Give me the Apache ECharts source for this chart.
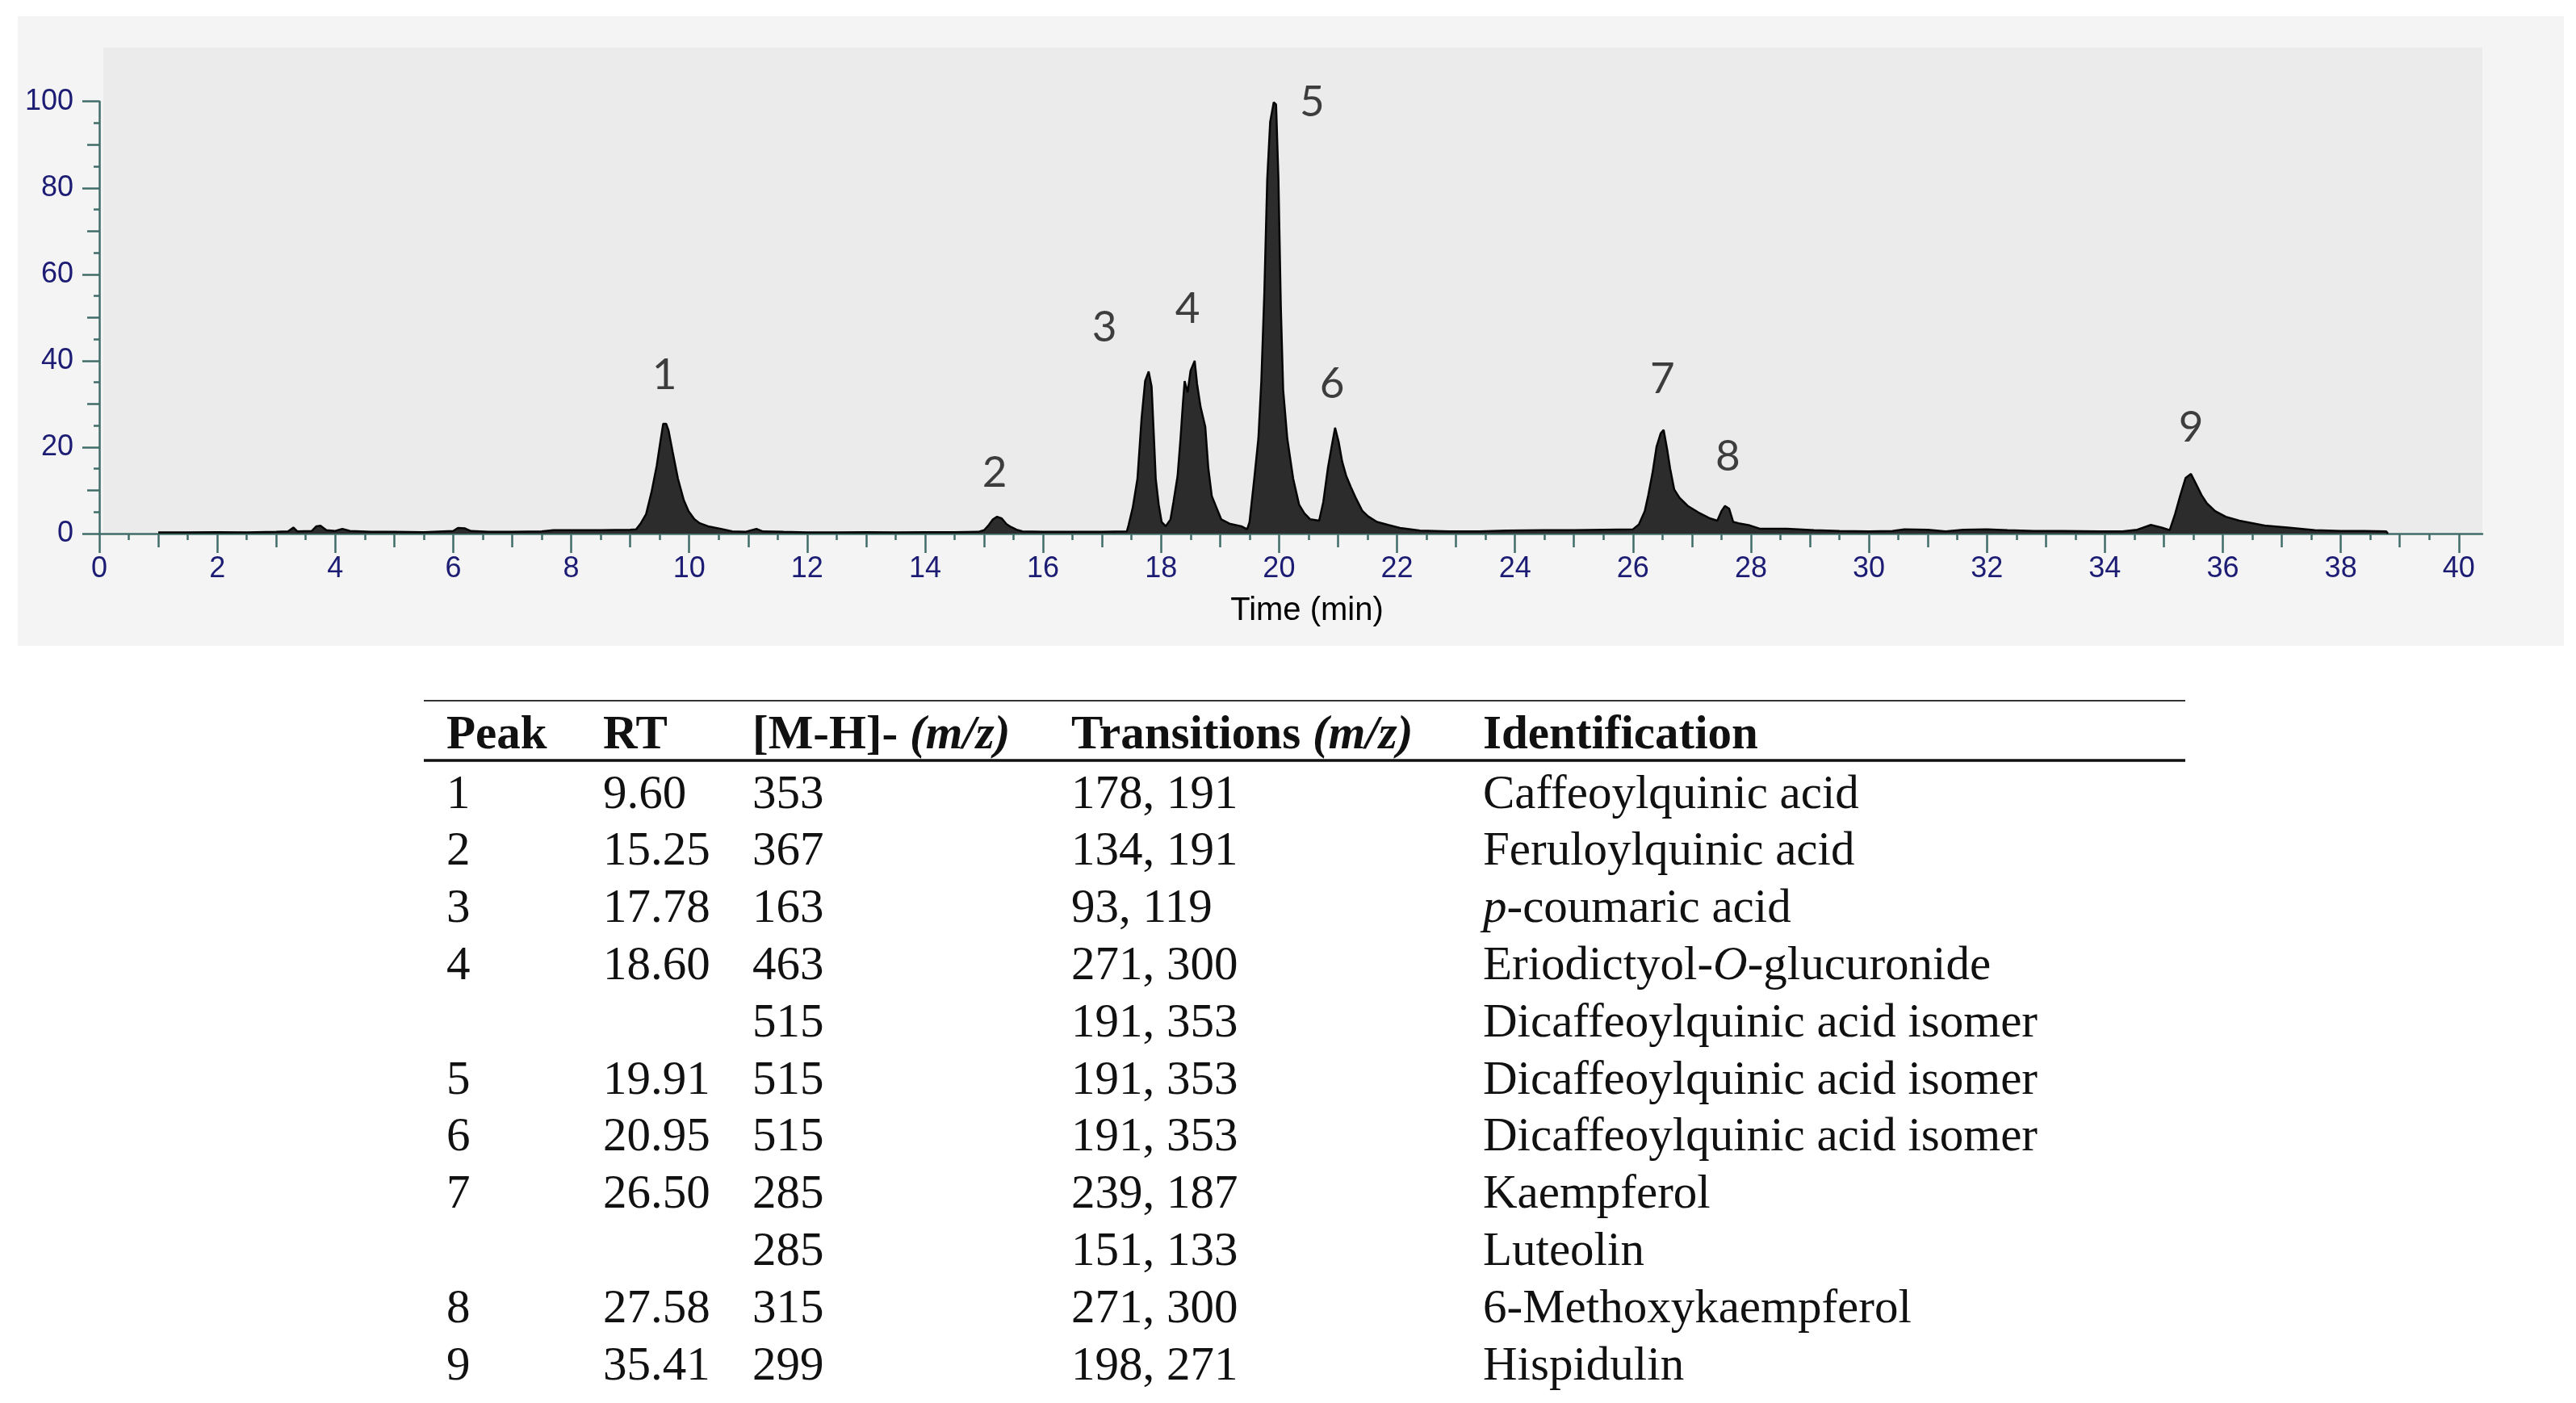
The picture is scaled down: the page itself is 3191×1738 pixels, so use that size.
<!DOCTYPE html>
<html>
<head>
<meta charset="utf-8">
<script src="https://cdn.jsdelivr.net/npm/echarts@6/dist/echarts.min.js"></script>
<style>
html,body{margin:0;padding:0;background:#fff;}
#chart{width:3191px;height:1738px;}
</style>
</head>
<body>
<div id="chart"></div>
<script>
// ---------- Chromatogram trace (time in min, relative abundance %) ----------
const traceTime = [
 1.00,1.5,2.0,2.5,3.0,3.2,3.29,3.36,3.6,3.68,3.75,3.85,4.0,4.12,4.25,4.6,5.0,5.5,6.0,6.08,6.2,6.3,6.6,7.0,7.5,7.7,8.0,8.5,9.0,
 9.10,9.18,9.27,9.36,9.45,9.52,9.56,9.61,9.65,9.72,9.81,9.91,9.99,10.09,10.18,10.32,10.54,10.73,10.95,11.14,11.25,11.6,
 12.0,12.5,13.0,13.5,14.0,14.5,14.9,15.0,15.08,15.15,15.22,15.30,15.38,15.46,15.55,15.65,16.0,16.5,17.0,
 17.42,17.45,17.52,17.60,17.67,17.73,17.79,17.84,17.88,17.91,17.96,18.01,18.08,18.16,
 18.21,18.28,18.33,18.37,18.40,18.45,18.50,18.57,18.61,18.67,18.75,18.80,18.86,18.94,19.02,19.16,19.36,19.46,
 19.50,19.58,19.65,19.70,19.75,19.80,19.85,19.91,19.95,19.99,20.03,20.07,20.14,20.24,20.34,20.43,20.53,20.68,
 20.75,20.83,20.89,20.95,21.01,21.07,21.14,21.22,21.31,21.41,21.51,21.66,21.85,22.05,22.39,22.88,23.4,23.86,24.5,25.0,25.5,26.0,
 26.10,26.20,26.26,26.33,26.40,26.47,26.52,26.58,26.63,26.70,26.79,26.93,27.11,27.29,27.43,27.50,27.56,27.63,27.70,27.79,27.98,28.16,28.61,29.07,
 29.5,30.0,30.4,30.6,31.0,31.3,31.6,32.0,32.35,32.8,33.3,33.9,34.3,34.55,34.78,34.96,35.10,
 35.19,35.28,35.37,35.46,35.55,35.64,35.73,35.87,36.05,36.28,36.51,36.74,37.10,37.56,38.0,38.4,38.77,38.8
];
const traceIntensity = [
 0.3,0.3,0.35,0.3,0.4,0.5,1.4,0.5,0.6,1.7,1.8,0.8,0.6,1.1,0.6,0.4,0.4,0.35,0.6,1.3,1.2,0.6,0.4,0.4,0.5,0.8,0.8,0.8,0.9,
 1.0,2.4,4.5,9.5,15.7,22,25.4,25.4,23.9,18.9,12.7,7.7,5.2,3.3,2.4,1.7,1.1,0.5,0.4,1.1,0.5,0.4,
 0.3,0.3,0.35,0.3,0.35,0.35,0.4,0.8,2.0,3.3,3.9,3.5,2.2,1.5,0.9,0.5,0.4,0.4,0.4,
 0.5,2,6,12.7,26.7,35.3,37.5,34,22,12.7,6.7,2.7,1.7,3.3,
 7.3,13.3,22,30,35.3,32.7,37.7,40,34.7,29.3,24.7,15.3,8.7,6,3.3,2.3,1.7,1.0,
 2.7,12.7,22,35.3,55.3,82,95.3,99.8,99.3,82,52.7,33.3,22,12.7,6.7,4.7,3.3,3.0,
 7.3,15.3,20,24.5,21.3,16.7,13.3,10.7,8,5.3,4,2.7,2,1.3,0.7,0.5,0.5,0.7,0.8,0.8,0.9,1.0,
 2.1,5.2,8.9,13.9,20.1,23.2,24,19.5,15.1,10.2,8.3,6.4,4.9,3.6,3.0,5.2,6.4,5.8,2.7,2.4,1.9,1.1,1.1,0.8,
 0.6,0.5,0.6,1.0,0.9,0.5,0.9,1.0,0.8,0.6,0.6,0.5,0.5,0.9,2.0,1.4,0.8,
 4.5,8.9,12.9,13.8,11.4,8.9,7.0,5.2,3.9,3.0,2.4,1.8,1.4,0.8,0.6,0.6,0.5,0
];

// ---------- Peak annotations ----------
const peakLabels = ['1','2','3','4','5','6','7','8','9'];
const peakLabelX = [9.58, 15.18, 17.04, 18.45, 20.56, 20.90, 26.50, 27.61, 35.46];
const peakLabelY = [36.6, 14.0, 47.6, 51.9, 99.8, 34.6, 35.7, 17.7, 24.5];

// ---------- Axis ticks ----------
const xTickLabels = [0,2,4,6,8,10,12,14,16,18,20,22,24,26,28,30,32,34,36,38,40];
const yTickLabels = [0,20,40,60,80,100];

// ---------- Table ----------
const tableHeader = ['Peak', 'RT', '[M-H]- {bi|(m/z)}', 'Transitions {bi|(m/z)}', 'Identification'];
const colPeak = ['1','2','3','4','','5','6','7','','8','9'];
const colRT = ['9.60','15.25','17.78','18.60','','19.91','20.95','26.50','','27.58','35.41'];
const colMH = ['353','367','163','463','515','515','515','285','285','315','299'];
const colTransitions = ['178, 191','134, 191','93, 119','271, 300','191, 353','191, 353','191, 353','239, 187','151, 133','271, 300','198, 271'];
const colIdentification = ['Caffeoylquinic acid','Feruloylquinic acid','{i|p}-coumaric acid','Eriodictyol-{i|O}-glucuronide',
  'Dicaffeoylquinic acid isomer','Dicaffeoylquinic acid isomer','Dicaffeoylquinic acid isomer','Kaempferol','Luteolin',
  '6-Methoxykaempferol','Hispidulin'];

// ---------- build ----------
const X_MAX = 40.4;
function steps(step, last) { const a = []; for (let v = 0; v <= last + 1e-9; v += step) a.push(+v.toFixed(2)); return a; }
const xMid = steps(1, 40), xMinor = steps(0.5, 40);
const yMid = steps(10, 100), yMinor = steps(5, 100);

const axisCol = '#406d6a';
const labCol = '#1c1c74';
const tickFont = 'Liberation Sans, Arial, sans-serif';

const chart = echarts.init(document.getElementById('chart'), null, {renderer: 'canvas'});

const tableFont = 'Liberation Serif, Times New Roman, serif';
const TFS = 59;
const colX = [553, 747, 932, 1327, 1837];
const headerY = 912;
const rowY0 = 985, rowDY = 70.8;
const richDefs = {
  i: {fontStyle: 'italic', fontFamily: tableFont, fontSize: TFS, fill: '#111'},
  bi: {fontStyle: 'italic', fontWeight: 'bold', fontFamily: tableFont, fontSize: TFS, fill: '#111'}
};
function tText(x, y, text, bold) {
  return {
    type: 'text', x: x, y: y, z: 10,
    style: {text: text, fill: '#111', fontFamily: tableFont, fontSize: TFS, fontWeight: bold ? 'bold' : 'normal',
            align: 'left', verticalAlign: 'middle', rich: richDefs}
  };
}
const graphics = [
  {type: 'rect', z: -20, shape: {x: 22, y: 20, width: 3154, height: 780}, style: {fill: '#f4f4f4'}},
  {type: 'rect', z: -19, shape: {x: 128, y: 59, width: 2947, height: 602}, style: {fill: '#ebebeb'}},
  {type: 'line', z: 10, shape: {x1: 525, y1: 868, x2: 2707, y2: 868}, style: {stroke: '#333', lineWidth: 2}},
  {type: 'line', z: 10, shape: {x1: 525, y1: 942, x2: 2707, y2: 942}, style: {stroke: '#111', lineWidth: 3.5}}
];
tableHeader.forEach((h, c) => graphics.push(tText(colX[c], headerY, h, true)));
const cols = [colPeak, colRT, colMH, colTransitions, colIdentification];
for (let r = 0; r < colMH.length; r++) {
  cols.forEach((col, c) => { if (col[r]) graphics.push(tText(colX[c], rowY0 + r * rowDY, col[r], false)); });
}

function xAxisDef(vals, len, withLabels) {
  return {
    type: 'value', min: 0, max: X_MAX, gridIndex: 0, position: 'bottom',
    axisLine: {show: withLabels, lineStyle: {color: axisCol, width: 2.5}},
    axisTick: {show: true, length: len, inside: false, customValues: vals, lineStyle: {color: axisCol, width: 2.5}},
    axisLabel: withLabels ? {show: true, customValues: xTickLabels, color: labCol, fontSize: 36, fontFamily: tickFont, margin: 26} : {show: false},
    splitLine: {show: false},
    name: withLabels ? 'Time (min)' : '',
    nameLocation: 'middle', nameGap: 76,
    nameTextStyle: {color: '#000', fontSize: 40, fontFamily: tickFont, padding: [0, 0, 0, 40]}
  };
}
function yAxisDef(vals, len, withLabels) {
  return {
    type: 'value', min: 0, max: 100, position: 'left',
    axisLine: {show: withLabels, lineStyle: {color: axisCol, width: 2.5}},
    axisTick: {show: true, length: len, inside: false, customValues: vals, lineStyle: {color: axisCol, width: 2.5}},
    axisLabel: withLabels ? {show: true, customValues: yTickLabels, color: labCol, fontSize: 36, fontFamily: tickFont, margin: 32} : {show: false},
    splitLine: {show: false}
  };
}

chart.setOption({
  animation: false,
  backgroundColor: '#ffffff',
  grid: {left: 123, right: 3191 - 3075, top: 125.7, bottom: 1738 - 661, containLabel: false},
  xAxis: [xAxisDef(xTickLabels, 24, true), xAxisDef(xMid, 17, false), xAxisDef(xMinor, 8, false)],
  yAxis: [yAxisDef(yTickLabels, 21, true), yAxisDef(yMid, 15, false), yAxisDef(yMinor, 7, false)],
  graphic: graphics,
  series: [
    {
      type: 'line', xAxisIndex: 0, yAxisIndex: 0, z: 3,
      data: traceTime.map((t, i) => [t, traceIntensity[i]]),
      showSymbol: false, smooth: false,
      lineStyle: {color: '#050505', width: 2.5},
      areaStyle: {color: '#2c2c2c', opacity: 1, origin: 'start'}
    },
    {
      type: 'scatter', xAxisIndex: 0, yAxisIndex: 0, z: 5, clip: false,
      symbolSize: 1, itemStyle: {color: 'rgba(0,0,0,0)'},
      data: peakLabelX.map((x, i) => ({value: [x, peakLabelY[i]], name: peakLabels[i]})),
      label: {show: true, position: 'inside', formatter: p => p.name, color: '#111',
              fontSize: 53, fontFamily: 'Lato, Noto Sans, sans-serif'}
    }
  ]
});
</script>
</body>
</html>
